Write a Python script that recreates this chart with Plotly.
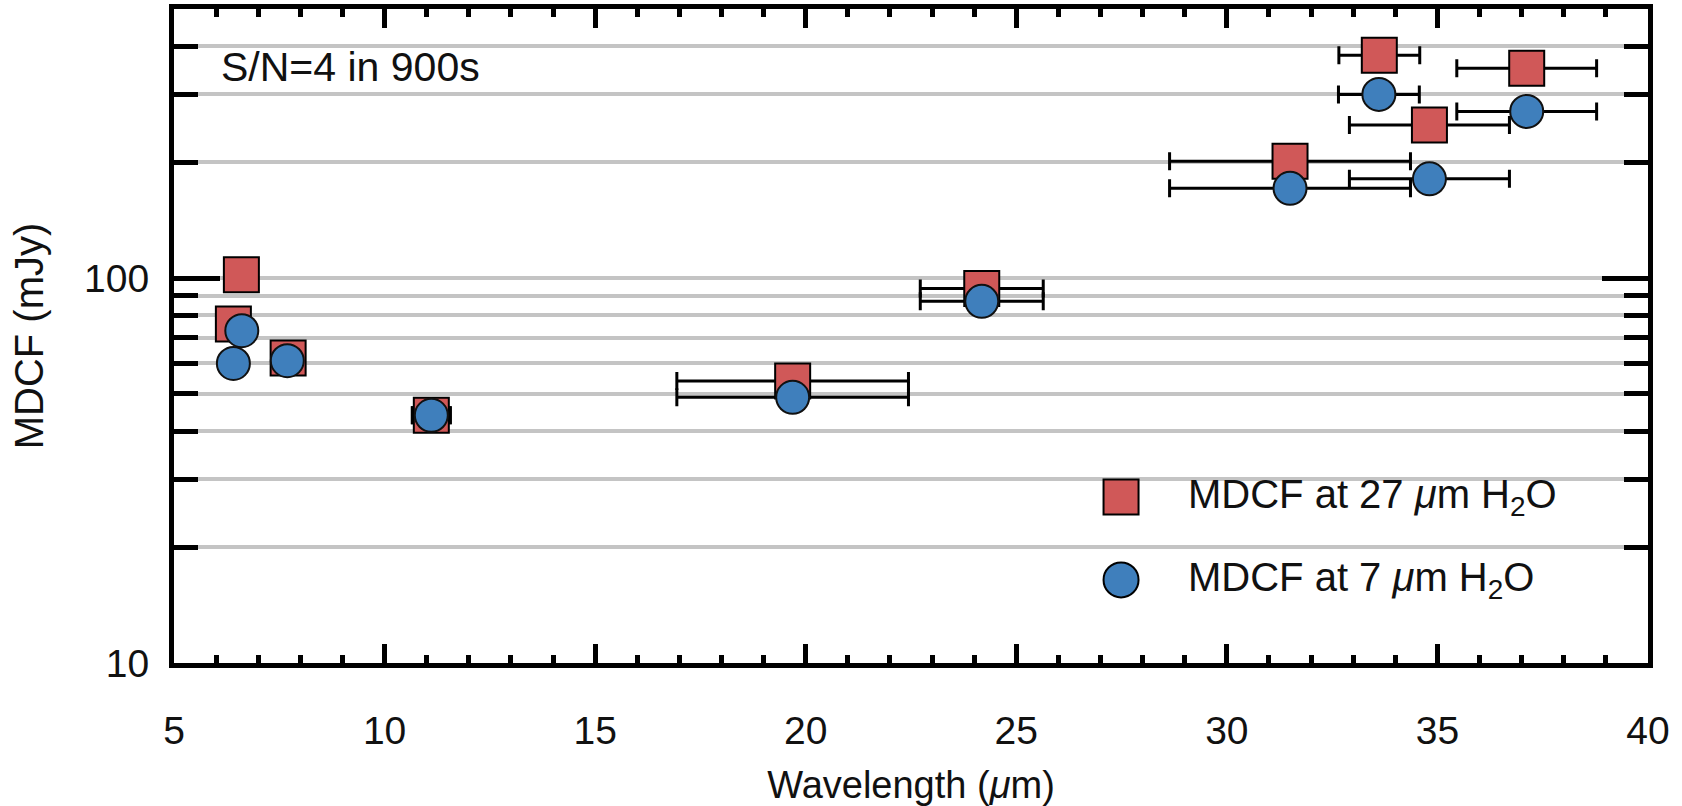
import plotly.graph_objects as go

# Minimum detectable continuum flux for each filter, two water-vapour cases
wl_27 = [6.60, 6.41, 7.71, 11.11, 19.69, 24.18, 31.50, 33.62, 34.81, 37.12]
mdcf_27 = [102, 76, 62, 44, 54, 94, 201, 379, 250, 351]
wl_7 = [6.61, 6.41, 7.69, 11.11, 19.69, 24.18, 31.50, 33.61, 34.81, 37.12]
mdcf_7 = [73, 60, 61, 44, 49, 87, 171, 300, 181, 271]
# half-width of each filter bandpass (micron)
half_band = [0, 0, 0, 0.45, 2.75, 1.46, 2.86, 0.96, 1.9, 1.66]

x_major = [5, 10, 15, 20, 25, 30, 35, 40]
y_major = [10, 100]
y_major_text = ["10", "100"]
y_minor = [20, 30, 40, 50, 60, 70, 80, 90, 200, 300, 400, 500]

label_27 = "MDCF at 27 <i>μ</i>m H<sub>2</sub>O"
label_7 = "MDCF at 7 <i>μ</i>m H<sub>2</sub>O"
note = "S/N=4 in 900s"

RED = "#d05858"
BLUE = "#3f7fbc"
FONT = "Liberation Sans"

err_style = dict(type="data", symmetric=True, color="black", thickness=3, width=9)

fig = go.Figure()
fig.add_trace(go.Scatter(
    x=wl_27, y=mdcf_27, mode="markers", name=label_27,
    marker=dict(symbol="square", size=35, color=RED, line=dict(color="black", width=2)),
    error_x=dict(array=half_band, **err_style),
    showlegend=False,
))
fig.add_trace(go.Scatter(
    x=wl_7, y=mdcf_7, mode="markers", name=label_7,
    marker=dict(symbol="circle", size=33, color=BLUE, line=dict(color="#111111", width=2)),
    error_x=dict(array=half_band, **err_style),
    showlegend=False,
))

# hand-placed key in the lower right of the plot area
key_x = 0.6425
key_rows = [(0.2540, "square", RED, label_27), (0.1271, "circle", BLUE, label_7)]
for ky, kind, col, txt in key_rows:
    fig.add_shape(
        type="rect" if kind == "square" else "circle",
        xref="paper", yref="paper", xsizemode="pixel", ysizemode="pixel",
        xanchor=key_x, yanchor=ky,
        x0=-17.5, x1=17.5, y0=-17.5, y1=17.5,
        fillcolor=col, line=dict(color="black", width=2), layer="above",
    )
    fig.add_annotation(
        text=txt, xref="paper", yref="paper", x=0.6863, y=ky,
        xanchor="left", yanchor="middle", showarrow=False,
        font=dict(family=FONT, size=40, color="#111111"),
    )

fig.add_annotation(
    text=note, xref="paper", yref="paper", x=0.0305, y=0.9112,
    xanchor="left", yanchor="middle", showarrow=False,
    font=dict(family=FONT, size=41, color="#111111"),
)

fig.update_layout(
    width=1682, height=806,
    margin=dict(l=174, r=34, t=9, b=143, autoexpand=False),
    paper_bgcolor="white", plot_bgcolor="white",
    font=dict(family=FONT, size=39, color="#111111"),
)
fig.update_xaxes(
    range=[5, 40], tickmode="array", tickvals=x_major,
    ticks="inside", ticklen=19, tickwidth=5, tickcolor="black",
    minor=dict(dtick=1, ticks="inside", ticklen=8, tickwidth=5, tickcolor="black", showgrid=False),
    showline=True, linecolor="black", linewidth=5, mirror="allticks",
    showgrid=False, zeroline=False, ticklabelstandoff=29, automargin=False,
    tickfont=dict(family=FONT, size=39),
    title=dict(text="Wavelength (<i>μ</i>m)", font=dict(family=FONT, size=38), standoff=35),
)
fig.update_yaxes(
    type="log", range=[1, 2.69897],
    tickmode="array", tickvals=y_major, ticktext=y_major_text,
    ticks="inside", ticklen=46, tickwidth=5, tickcolor="black",
    minor=dict(tickvals=y_minor, ticks="inside", ticklen=24, tickwidth=5, tickcolor="black",
               showgrid=True, gridcolor="#c4c4c4", gridwidth=4),
    showline=True, linecolor="black", linewidth=5, mirror="allticks",
    showgrid=True, gridcolor="#c4c4c4", gridwidth=4, zeroline=False,
    ticklabelstandoff=12, automargin=False,
    tickfont=dict(family=FONT, size=39),
    title=dict(text="MDCF (mJy)", font=dict(family=FONT, size=40), standoff=30),
)

fig.write_html("out.html")
